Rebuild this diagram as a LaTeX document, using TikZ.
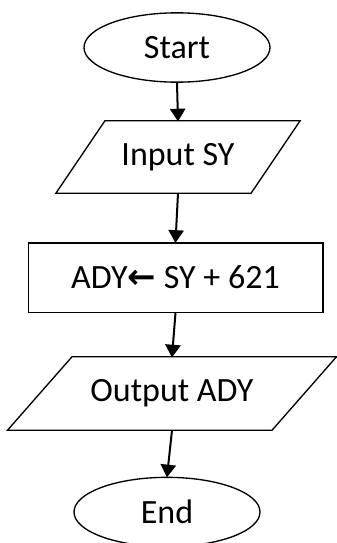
\documentclass[tikz,border=0pt]{standalone}
\usepackage{fontspec}
\setmainfont{Carlito}
\newfontfamily\arrowfont{DejaVu Sans}
\usetikzlibrary{arrows.meta,shapes.geometric}

\begin{document}
\begin{tikzpicture}[x=0.75pt,y=-0.75pt,
  every node/.style={font=\fontsize{25.5}{30}\selectfont, inner sep=0pt},
  terminal/.style={ellipse, draw, line width=1pt, minimum width=139.5pt, minimum height=52pt},
  process/.style={rectangle, draw, line width=1pt, minimum width=221pt, minimum height=52pt},
  flow/.style={-{Triangle[length=9.5pt,width=11.5pt]}, line width=1.5pt, shorten >=-0.5pt}
]
\useasboundingbox (0,0) rectangle (336,543);

% terminals and process box
\node[terminal] (start) at (177,47.5) {Start};
\node[process]  (calc)  at (175.5,277.5) {ADY{\arrowfont\bfseries ←} SY + 621};
\node[terminal] (stop)  at (167,512) {End};

% input / output parallelograms: text node sized to the shape, outline drawn around it
\node[minimum width=146pt, minimum height=54pt] (in) at (178,157) {Input SY};
\draw[line width=1pt]
  ([xshift=18.4pt]in.north west) -- ([xshift=18.4pt]in.north east)
  -- ([xshift=-18.4pt]in.south east) -- ([xshift=-18.4pt]in.south west) -- cycle;

\node[minimum width=198pt, minimum height=54.75pt] (out) at (172,393.5) {Output ADY};
\draw[line width=1pt]
  ([xshift=24.2pt]out.north west) -- ([xshift=24.2pt]out.north east)
  -- ([xshift=-24.2pt]out.south east) -- ([xshift=-24.2pt]out.south west) -- cycle;

% connectors
\draw[flow] (start.south) -- (in.north);
\draw[flow] (in.south) -- (calc.north);
\draw[flow] (calc.south) -- (out.north);
\draw[flow] (out.south) -- (stop.north);
\end{tikzpicture}
\end{document}
